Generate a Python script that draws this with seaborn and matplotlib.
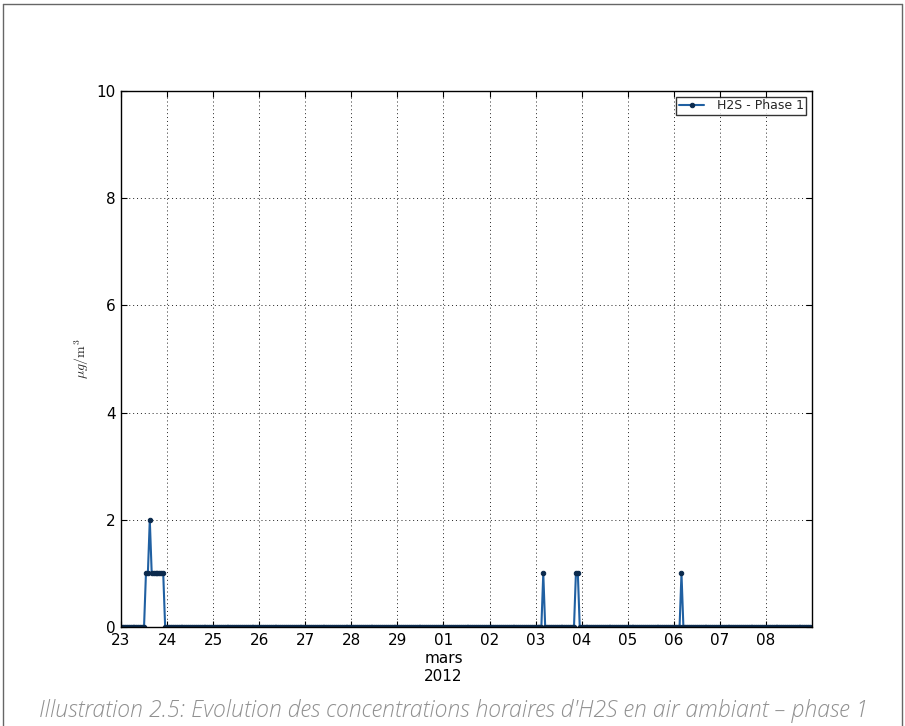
import numpy as np
import pandas as pd
import matplotlib
matplotlib.use("Agg")
import matplotlib.pyplot as plt
from matplotlib.lines import Line2D
import seaborn as sns

# ---- data (hourly H2S concentrations, µg/m3) ----
start_time = "2012-02-23 00:00"
n_hours = 360  # 23 Feb 00:00 -> 08 Mar 23:00
event_times = [
    "2012-02-23 13:00", "2012-02-23 14:00", "2012-02-23 15:00", "2012-02-23 16:00",
    "2012-02-23 17:00", "2012-02-23 18:00", "2012-02-23 19:00", "2012-02-23 20:00",
    "2012-02-23 21:00", "2012-02-23 22:00",
    "2012-03-03 04:00",
    "2012-03-03 21:00", "2012-03-03 22:00",
    "2012-03-06 04:00",
]
event_values = [1, 1, 2, 1, 1, 1, 1, 1, 1, 1, 1, 1, 1, 1]
series_label = "H2S - Phase 1"
tick_dates = pd.date_range("2012-02-23", "2012-03-08", freq="D")
tick_labels = ["23", "24", "25", "26", "27", "28", "29", "01\nmars\n2012",
               "02", "03", "04", "05", "06", "07", "08"]
y_ticks = [0, 2, 4, 6, 8, 10]
caption = "Illustration 2.5: Evolution des concentrations horaires d'H2S en air ambiant \u2013 phase 1"

times = pd.date_range(start_time, periods=n_hours, freq="h")
values = pd.Series(0.0, index=times)
values.loc[pd.to_datetime(event_times)] = event_values
df = pd.DataFrame({"time": times, "value": values.values})

# ---- figure ----
sns.set_style("white")
plt.rcParams["font.family"] = ["DejaVu Sans"]
plt.rcParams["mathtext.fontset"] = "cm"

W, H = 905, 726
fig = plt.figure(figsize=(W / 100, H / 100), dpi=100)
fig.patch.set_facecolor("white")
ax = fig.add_axes([121 / W, (H - 627) / H, (812 - 121) / W, (627 - 91) / H])

sns.lineplot(data=df, x="time", y="value", ax=ax, color="#2060a2",
             linewidth=1.5, marker="o", markersize=3.2,
             markeredgecolor="#0b2a4d", markerfacecolor="#0b2a4d",
             label=series_label)

ax.set_xlim(pd.Timestamp("2012-02-23"), pd.Timestamp("2012-03-09"))
ax.set_ylim(0, 10)
ax.set_xticks(tick_dates)
ax.set_xticklabels(tick_labels, fontsize=11, linespacing=1.25)
ax.set_yticks(y_ticks)
ax.set_yticklabels([str(v) for v in y_ticks], fontsize=11)
ax.set_xlabel("")
ax.set_ylabel(r"$\mu g/\mathrm{m}^3$", fontsize=10, labelpad=4)

ax.grid(True, color="#222222", linestyle=(0, (1, 3)), linewidth=0.7)
ax.tick_params(direction="in", length=4, width=0.8, top=True, right=True,
               bottom=True, left=True, pad=4, colors="black")
for sp in ax.spines.values():
    sp.set_color("black")
    sp.set_linewidth(1.0)

leg = ax.legend(loc="upper right", fontsize=9, fancybox=False, frameon=True,
                edgecolor="black", borderaxespad=0.45, handlelength=2.0,
                borderpad=0.22, handletextpad=1.0)
leg.get_frame().set_linewidth(1.0)

# caption
fig.text(454 / W, 1 - 711 / H, caption, ha="center", va="center",
         fontsize=16.6, style="italic", color="#909090",
         family=["Open Sans", "DejaVu Sans"], fontweight="light")

# document frame
for xs, ys in [((3, 3), (4, H)), ((3, 902), (4, 4)), ((902, 902), (4, H))]:
    fig.add_artist(Line2D([x / W for x in xs], [1 - y / H for y in ys],
                          color="#666666", linewidth=1.0,
                          transform=fig.transFigure))

fig.savefig("out.png", dpi=100)
